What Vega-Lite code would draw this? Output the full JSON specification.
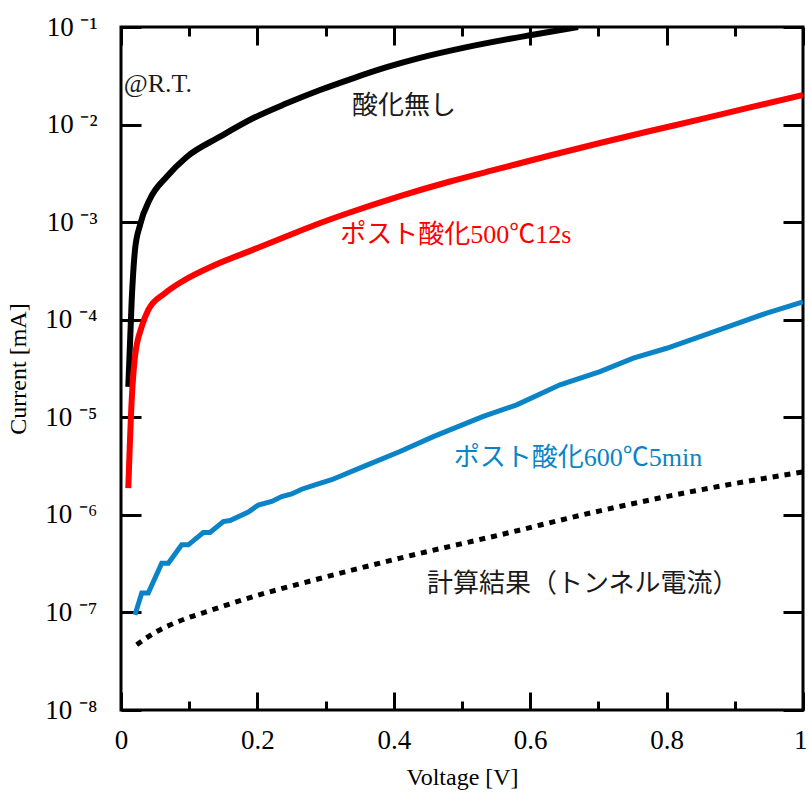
{
  "$schema": "https://vega.github.io/schema/vega-lite/v6.json",
  "width": 682,
  "height": 683,
  "autosize": "none",
  "padding": {"left": 121, "top": 27, "right": 5, "bottom": 95},
  "resolve": {"axis": {"x": "independent", "y": "independent"}},
  "config": {
    "view": {"stroke": "black", "strokeWidth": 3},
    "axis": {
      "grid": false,
      "domain": false,
      "ticks": true,
      "zindex": 1,
      "tickColor": "black",
      "tickOpacity": 1,
      "tickWidth": 3,
      "labelColor": "black",
      "labelFont": "Liberation Serif",
      "titleFont": "Liberation Serif",
      "titleColor": "black",
      "titleFontWeight": "normal"
    }
  },
  "datasets": {
    "curves": [
      {"series": "none", "V": 0.0107, "I": 2.05e-5},
      {"series": "none", "V": 0.0157, "I": 1.6e-4},
      {"series": "none", "V": 0.0205, "I": 5.19e-4},
      {"series": "none", "V": 0.0279, "I": 9.35e-4},
      {"series": "none", "V": 0.0425, "I": 1.73e-3},
      {"series": "none", "V": 0.067, "I": 2.92e-3},
      {"series": "none", "V": 0.0963, "I": 4.66e-3},
      {"series": "none", "V": 0.1452, "I": 7.52e-3},
      {"series": "none", "V": 0.1935, "I": 1.16e-2},
      {"series": "none", "V": 0.243, "I": 1.65e-2},
      {"series": "none", "V": 0.2918, "I": 2.26e-2},
      {"series": "none", "V": 0.3402, "I": 2.98e-2},
      {"series": "none", "V": 0.3896, "I": 3.87e-2},
      {"series": "none", "V": 0.4384, "I": 4.82e-2},
      {"series": "none", "V": 0.5069, "I": 6.21e-2},
      {"series": "none", "V": 0.5997, "I": 8.24e-2},
      {"series": "none", "V": 0.6701, "I": 0.1},
      {"series": "500C12s", "V": 0.0107, "I": 1.88e-6},
      {"series": "500C12s", "V": 0.0157, "I": 1.51e-5},
      {"series": "500C12s", "V": 0.0205, "I": 4.19e-5},
      {"series": "500C12s", "V": 0.0304, "I": 8.49e-5},
      {"series": "500C12s", "V": 0.04, "I": 1.26e-4},
      {"series": "500C12s", "V": 0.0645, "I": 1.87e-4},
      {"series": "500C12s", "V": 0.089, "I": 2.45e-4},
      {"series": "500C12s", "V": 0.1378, "I": 3.64e-4},
      {"series": "500C12s", "V": 0.1867, "I": 4.99e-4},
      {"series": "500C12s", "V": 0.2356, "I": 6.84e-4},
      {"series": "500C12s", "V": 0.2845, "I": 9.35e-4},
      {"series": "500C12s", "V": 0.3333, "I": 1.24e-3},
      {"series": "500C12s", "V": 0.4091, "I": 1.85e-3},
      {"series": "500C12s", "V": 0.4824, "I": 2.61e-3},
      {"series": "500C12s", "V": 0.5557, "I": 3.55e-3},
      {"series": "500C12s", "V": 0.629, "I": 4.82e-3},
      {"series": "500C12s", "V": 0.7023, "I": 6.47e-3},
      {"series": "500C12s", "V": 0.7757, "I": 8.59e-3},
      {"series": "500C12s", "V": 0.849, "I": 1.13e-2},
      {"series": "500C12s", "V": 0.9223, "I": 1.5e-2},
      {"series": "500C12s", "V": 1.0, "I": 2.01e-2},
      {"series": "600C5min", "V": 0.0205, "I": 9.44e-8},
      {"series": "600C5min", "V": 0.0304, "I": 1.58e-7},
      {"series": "600C5min", "V": 0.04, "I": 1.58e-7},
      {"series": "600C5min", "V": 0.0597, "I": 3.2e-7},
      {"series": "600C5min", "V": 0.0694, "I": 3.2e-7},
      {"series": "600C5min", "V": 0.089, "I": 4.93e-7},
      {"series": "600C5min", "V": 0.0987, "I": 4.93e-7},
      {"series": "600C5min", "V": 0.1207, "I": 6.59e-7},
      {"series": "600C5min", "V": 0.1305, "I": 6.59e-7},
      {"series": "600C5min", "V": 0.15, "I": 8.53e-7},
      {"series": "600C5min", "V": 0.1598, "I": 8.75e-7},
      {"series": "600C5min", "V": 0.1867, "I": 1.07e-6},
      {"series": "600C5min", "V": 0.2013, "I": 1.26e-6},
      {"series": "600C5min", "V": 0.221, "I": 1.37e-6},
      {"series": "600C5min", "V": 0.2356, "I": 1.54e-6},
      {"series": "600C5min", "V": 0.2503, "I": 1.64e-6},
      {"series": "600C5min", "V": 0.265, "I": 1.83e-6},
      {"series": "600C5min", "V": 0.2845, "I": 2.03e-6},
      {"series": "600C5min", "V": 0.3089, "I": 2.29e-6},
      {"series": "600C5min", "V": 0.3578, "I": 3.18e-6},
      {"series": "600C5min", "V": 0.4091, "I": 4.46e-6},
      {"series": "600C5min", "V": 0.4579, "I": 6.34e-6},
      {"series": "600C5min", "V": 0.5312, "I": 1.02e-5},
      {"series": "600C5min", "V": 0.5802, "I": 1.34e-5},
      {"series": "600C5min", "V": 0.6437, "I": 2.15e-5},
      {"series": "600C5min", "V": 0.7023, "I": 2.94e-5},
      {"series": "600C5min", "V": 0.7512, "I": 4.04e-5},
      {"series": "600C5min", "V": 0.8001, "I": 5.1e-5},
      {"series": "600C5min", "V": 0.849, "I": 6.71e-5},
      {"series": "600C5min", "V": 0.8978, "I": 8.85e-5},
      {"series": "600C5min", "V": 0.9468, "I": 1.17e-4},
      {"series": "600C5min", "V": 1.0, "I": 1.52e-4},
      {"series": "calc", "V": 0.023, "I": 4.66e-8},
      {"series": "calc", "V": 0.0523, "I": 6.37e-8},
      {"series": "calc", "V": 0.084, "I": 8.07e-8},
      {"series": "calc", "V": 0.133, "I": 1.06e-7},
      {"series": "calc", "V": 0.1818, "I": 1.37e-7},
      {"series": "calc", "V": 0.2845, "I": 2.16e-7},
      {"series": "calc", "V": 0.4091, "I": 3.6e-7},
      {"series": "calc", "V": 0.5557, "I": 6.24e-7},
      {"series": "calc", "V": 0.7023, "I": 1.1e-6},
      {"series": "calc", "V": 0.849, "I": 1.8e-6},
      {"series": "calc", "V": 1.0, "I": 2.76e-6}
    ],
    "labels": [
      {"text": "@R.T.", "V": 0.054, "I": 0.026, "series": "black"},
      {"text": "酸化無し", "V": 0.415, "I": 0.0155, "series": "black"},
      {"text": "ポスト酸化500℃12s", "V": 0.491, "I": 7.4e-4, "series": "red"},
      {"text": "ポスト酸化600℃5min", "V": 0.67, "I": 3.84e-6, "series": "blue"},
      {"text": "計算結果（トンネル電流）", "V": 0.677, "I": 1.96e-7, "series": "black"}
    ]
  },
  "layer": [
    {
      "data": {"name": "curves"},
      "transform": [{"filter": "datum.series == 'none'"}],
      "mark": {"type": "line", "color": "black", "strokeWidth": 6, "interpolate": "monotone", "clip": true},
      "encoding": {
        "x": {
          "field": "V", "type": "quantitative",
          "scale": {"domain": [0, 1], "nice": false, "zero": false},
          "axis": {
            "orient": "bottom",
            "offset": -18,
            "values": [0, 0.2, 0.4, 0.6, 0.8, 1],
            "labelExpr": "format(datum.value, '~g')",
            "tickSize": 18,
            "labelAlign": {"condition": {"test": "datum.value == 1", "value": "right"}, "value": "center"},
            "labelOffset": {"condition": {"test": "datum.value == 1", "value": 4}, "value": 0},
            "labelFontSize": 27,
            "labelPadding": 17,
            "labelFlush": false,
            "labelOverlap": false,
            "title": "Voltage [V]",
            "titleFontSize": 24,
            "titlePadding": 12
          }
        },
        "y": {
          "field": "I", "type": "quantitative",
          "scale": {"type": "log", "domain": [1e-8, 0.1], "nice": false},
          "axis": {
            "orient": "left",
            "offset": -20,
            "values": [1e-8, 1e-7, 1e-6, 1e-5, 1e-4, 1e-3, 1e-2, 1e-1],
            "labelExpr": "'10 ⁻' + ['⁰','¹','²','³','⁴','⁵','⁶','⁷','⁸','⁹'][round(-log(datum.value)/LN10)]",
            "tickSize": 20,
            "labelFontSize": 27,
            "labelPadding": 24,
            "labelFlush": false,
            "labelOverlap": false,
            "title": "Current [mA]",
            "titleFontSize": 24,
            "titlePadding": 14
          }
        }
      }
    },
    {
      "data": {"name": "curves"},
      "transform": [{"filter": "datum.series == '500C12s'"}],
      "mark": {"type": "line", "color": "#ff0000", "strokeWidth": 6, "interpolate": "monotone", "clip": true},
      "encoding": {
        "x": {
          "field": "V", "type": "quantitative",
          "axis": {"orient": "bottom", "offset": -9, "values": [0.1, 0.3, 0.5, 0.7, 0.9], "tickSize": 9, "labels": false, "title": null}
        },
        "y": {
          "field": "I", "type": "quantitative",
          "axis": {"orient": "right", "offset": -20, "values": [1e-8, 1e-7, 1e-6, 1e-5, 1e-4, 1e-3, 1e-2, 1e-1], "tickSize": 20, "labels": false, "title": null}
        }
      }
    },
    {
      "data": {"name": "curves"},
      "transform": [{"filter": "datum.series == '600C5min'"}],
      "mark": {"type": "line", "color": "#0a84c6", "strokeWidth": 5, "interpolate": "linear", "clip": true},
      "encoding": {
        "x": {
          "field": "V", "type": "quantitative",
          "axis": {"orient": "top", "offset": -18, "values": [0, 0.2, 0.4, 0.6, 0.8, 1], "tickSize": 18, "labels": false, "title": null}
        },
        "y": {"field": "I", "type": "quantitative", "axis": null}
      }
    },
    {
      "data": {"name": "curves"},
      "transform": [{"filter": "datum.series == 'calc'"}],
      "mark": {"type": "line", "color": "black", "strokeWidth": 5, "strokeDash": [6, 6], "strokeCap": "butt", "interpolate": "monotone", "clip": true},
      "encoding": {
        "x": {
          "field": "V", "type": "quantitative",
          "axis": {"orient": "top", "offset": -9, "values": [0.1, 0.3, 0.5, 0.7, 0.9], "tickSize": 9, "labels": false, "title": null}
        },
        "y": {"field": "I", "type": "quantitative", "axis": null}
      }
    },
    {
      "data": {"name": "labels"},
      "mark": {"type": "text", "font": "Liberation Serif, Noto Sans CJK JP", "fontSize": 26, "align": "center", "baseline": "middle"},
      "encoding": {
        "x": {"field": "V", "type": "quantitative", "axis": null},
        "y": {"field": "I", "type": "quantitative", "axis": null},
        "text": {"field": "text", "type": "nominal"},
        "color": {
          "field": "series", "type": "nominal", "legend": null,
          "scale": {"domain": ["black", "red", "blue"], "range": ["#1a1a1a", "#ff0000", "#0a84c6"]}
        }
      }
    }
  ]
}
